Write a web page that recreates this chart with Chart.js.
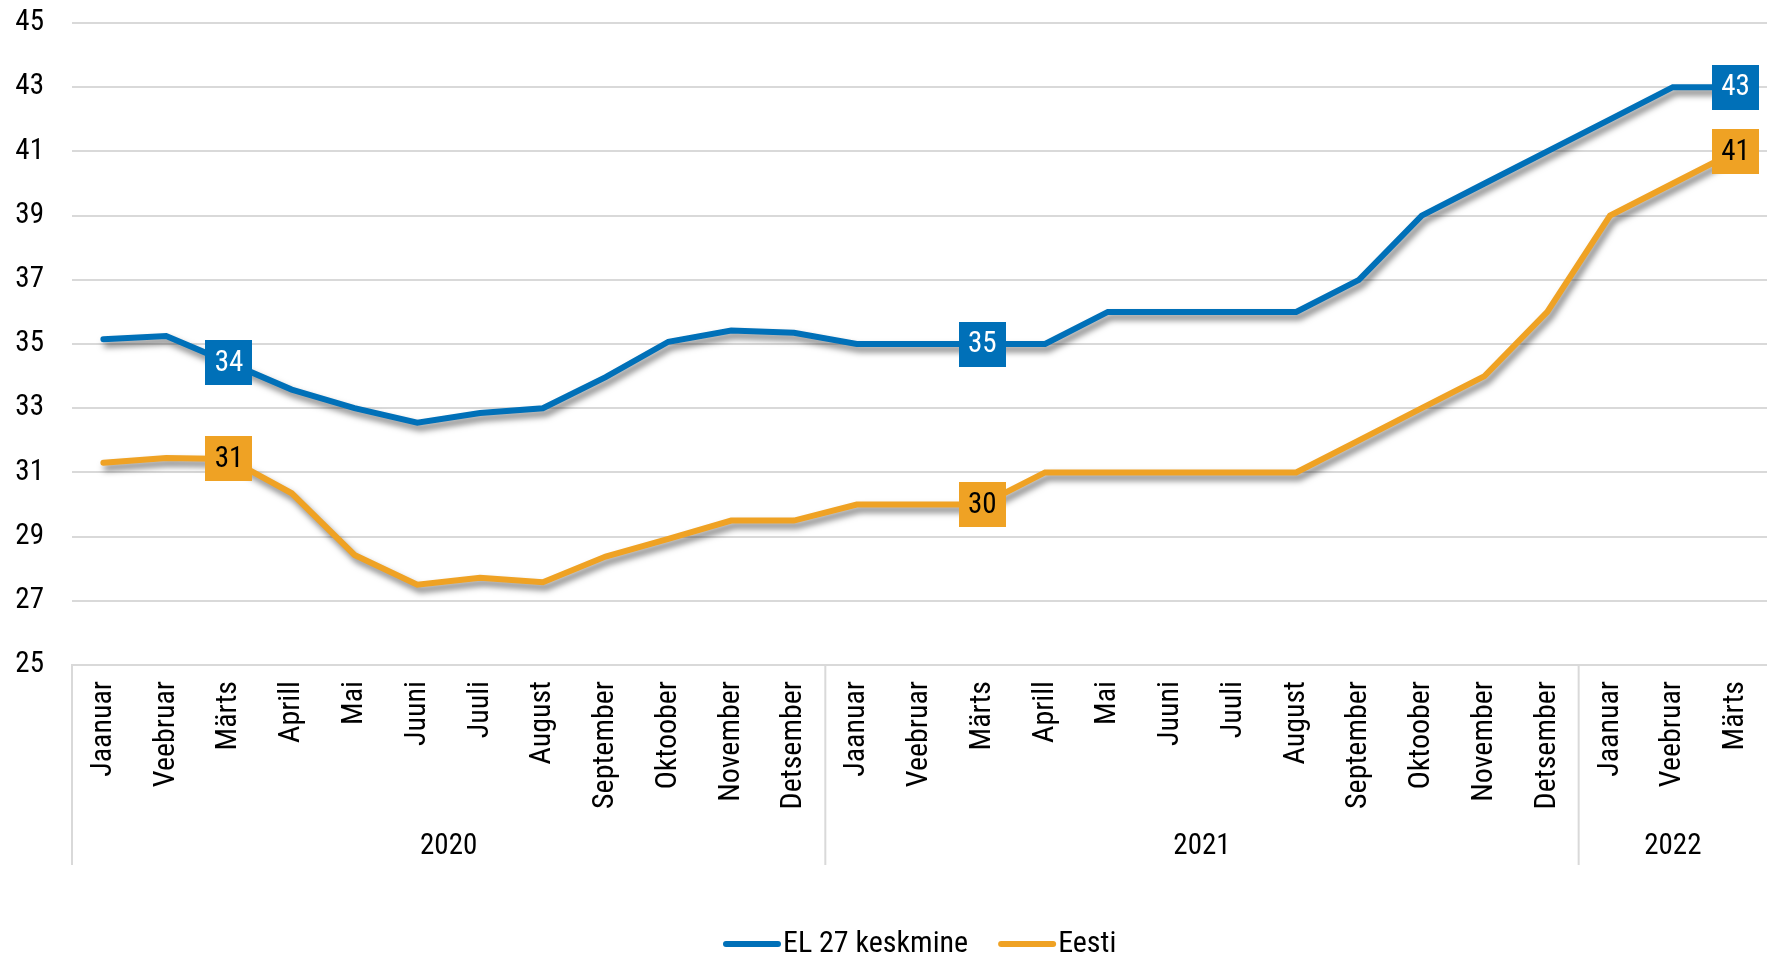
<!DOCTYPE html>
<html>
<head>
<meta charset="utf-8">
<script src="https://cdn.jsdelivr.net/npm/chart.js@4"></script>
<style>
    html, body { margin: 0; padding: 0; background: #fff; overflow: hidden; }
    #wrap { width: 1767px; height: 958px; }
</style>
</head>
<body>
<div id="wrap"><canvas id="chart"></canvas></div>
<script>
/* Andmed */
const KUUD = [
    "Jaanuar","Veebruar","Märts","Aprill","Mai","Juuni",
    "Juuli","August","September","Oktoober","November","Detsember",
    "Jaanuar","Veebruar","Märts","Aprill","Mai","Juuni",
    "Juuli","August","September","Oktoober","November","Detsember",
    "Jaanuar","Veebruar","Märts"
];
const AASTAD = ["2020", "2021", "2022"];
const AASTA_KUUD = [12, 12, 3];

const EL27 = [
    35.15, 35.25, 34.42, 33.58, 33.0, 32.55, 32.85, 33.0, 33.97, 35.07, 35.42, 35.35,
    35.0, 35.0, 35.0, 35.0, 36.0, 36.0, 36.0, 36.0, 37.0, 39.0, 40.0, 41.0,
    42.0, 43.0, 43.0
];
const EESTI = [
    31.3, 31.45, 31.42, 30.35, 28.43, 27.5, 27.72, 27.58, 28.38, 28.93, 29.5, 29.5,
    30.0, 30.0, 30.0, 31.0, 31.0, 31.0, 31.0, 31.0, 32.0, 33.0, 34.0, 36.0,
    39.0, 40.0, 41.0
];
const SILDI_KOHAD = [2, 14, 26];

const Y_MIN = 25, Y_MAX = 45, Y_SAMM = 2;

const SININE = "#0070b8";
const ORANZ = "#efa224";
const HALL = "#d9d9d9";
const FONT = "'Roboto Condensed', 'DejaVu Sans Condensed', 'Liberation Sans Narrow', 'Roboto', sans-serif";

/* Vari joontele */
const variPlugin = {
    id: "vari",
    beforeDatasetDraw(chart) {
        const ctx = chart.ctx;
        ctx.save();
        ctx.shadowColor = "rgba(0,0,0,0.5)";
        ctx.shadowBlur = 6;
        ctx.shadowOffsetX = 3;
        ctx.shadowOffsetY = 5;
    },
    afterDatasetDraw(chart) {
        chart.ctx.restore();
    }
};

/* Väärtuste sildid */
const siltPlugin = {
    id: "sildid",
    afterDatasetsDraw(chart) {
        const ctx = chart.ctx;
        const w = 47, h = 45;
        ctx.save();
        ctx.font = "29px " + FONT;
        ctx.textAlign = "center";
        ctx.textBaseline = "middle";
        chart.data.datasets.forEach((ds, di) => {
            const meta = chart.getDatasetMeta(di);
            for (const i of SILDI_KOHAD) {
                const p = meta.data[i];
                let x = p.x;
                if (x + w / 2 > chart.width) x = chart.width - w / 2 - 4;
                ctx.fillStyle = ds.borderColor;
                ctx.fillRect(Math.round(x - w / 2), Math.round(p.y - h / 2), w, h);
                ctx.fillStyle = di === 0 ? "#fff" : "#000";
                ctx.fillText(String(Math.round(ds.data[i])), x, p.y + 1);
            }
        });
        ctx.restore();
    }
};

/* Aastate rühmad x-teljel */
const aastaPlugin = {
    id: "aastad",
    afterDraw(chart) {
        const ctx = chart.ctx;
        const xs = chart.scales.x;
        const area = chart.chartArea;
        const pool = (xs.getPixelForValue(1) - xs.getPixelForValue(0)) / 2;
        ctx.save();
        ctx.strokeStyle = HALL;
        ctx.lineWidth = 2;
        ctx.fillStyle = "#000";
        ctx.font = "29px " + FONT;
        ctx.textAlign = "center";
        ctx.textBaseline = "middle";
        let algus = 0;
        AASTAD.forEach((a, k) => {
            const lopp = algus + AASTA_KUUD[k] - 1;
            const xl = xs.getPixelForValue(algus) - pool;
            ctx.beginPath();
            ctx.moveTo(xl, area.bottom);
            ctx.lineTo(xl, 865);
            ctx.stroke();
            const xk = (xs.getPixelForValue(algus) + xs.getPixelForValue(lopp)) / 2;
            ctx.fillText(a, xk, 847);
            algus = lopp + 1;
        });
        ctx.restore();
    }
};

/* Legend (joonenäidis + tekst kõrvuti) */
const legendPlugin = {
    id: "legendJoon",
    afterDraw(chart) {
        const ctx = chart.ctx;
        const y = 944;
        let x = 723;
        ctx.save();
        ctx.font = "30px " + FONT;
        ctx.textBaseline = "middle";
        ctx.textAlign = "left";
        chart.data.datasets.forEach(ds => {
            ctx.strokeStyle = ds.borderColor;
            ctx.lineWidth = 6;
            ctx.lineCap = "round";
            ctx.beginPath();
            ctx.moveTo(x + 3, y);
            ctx.lineTo(x + 55, y);
            ctx.stroke();
            ctx.fillStyle = "#000";
            ctx.fillText(ds.label, x + 60, y);
            x += 60 + ctx.measureText(ds.label).width + 30;
        });
        ctx.restore();
    }
};

new Chart(document.getElementById("chart"), {
    type: "line",
    data: {
        labels: KUUD,
        datasets: [
            {
                label: "EL 27 keskmine",
                data: EL27,
                borderColor: SININE,
                backgroundColor: SININE,
                borderWidth: 6,
                borderCapStyle: "round",
                pointRadius: 0,
                tension: 0
            },
            {
                label: "Eesti",
                data: EESTI,
                borderColor: ORANZ,
                backgroundColor: ORANZ,
                borderWidth: 6,
                borderCapStyle: "round",
                pointRadius: 0,
                tension: 0
            }
        ]
    },
    options: {
        responsive: true,
        maintainAspectRatio: false,
        animation: false,
        layout: { padding: { top: 23, right: 0, bottom: 0, left: 0 } },
        plugins: {
            tooltip: { enabled: false },
            legend: { display: false }
        },
        scales: {
            x: {
                offset: true,
                grid: { display: false, drawTicks: false },
                border: { display: true, color: HALL, width: 2 },
                ticks: {
                    color: "#000",
                    font: { family: FONT, size: 30 },
                    minRotation: 90,
                    maxRotation: 90,
                    autoSkip: false,
                    padding: 16
                },
                afterFit(scale) {
                    scale.height = 293;
                    scale.paddingLeft = 0;
                    scale.paddingRight = 0;
                }
            },
            y: {
                min: Y_MIN,
                max: Y_MAX,
                grid: { color: HALL, lineWidth: 2, drawTicks: false },
                border: { display: false },
                ticks: {
                    stepSize: Y_SAMM,
                    color: "#000",
                    font: { family: FONT, size: 29 },
                    padding: 28
                },
                afterFit(scale) {
                    scale.width = 72;
                    scale.paddingTop = 0;
                    scale.paddingBottom = 0;
                }
            }
        }
    },
    plugins: [variPlugin, siltPlugin, aastaPlugin, legendPlugin]
});
</script>
</body>
</html>
